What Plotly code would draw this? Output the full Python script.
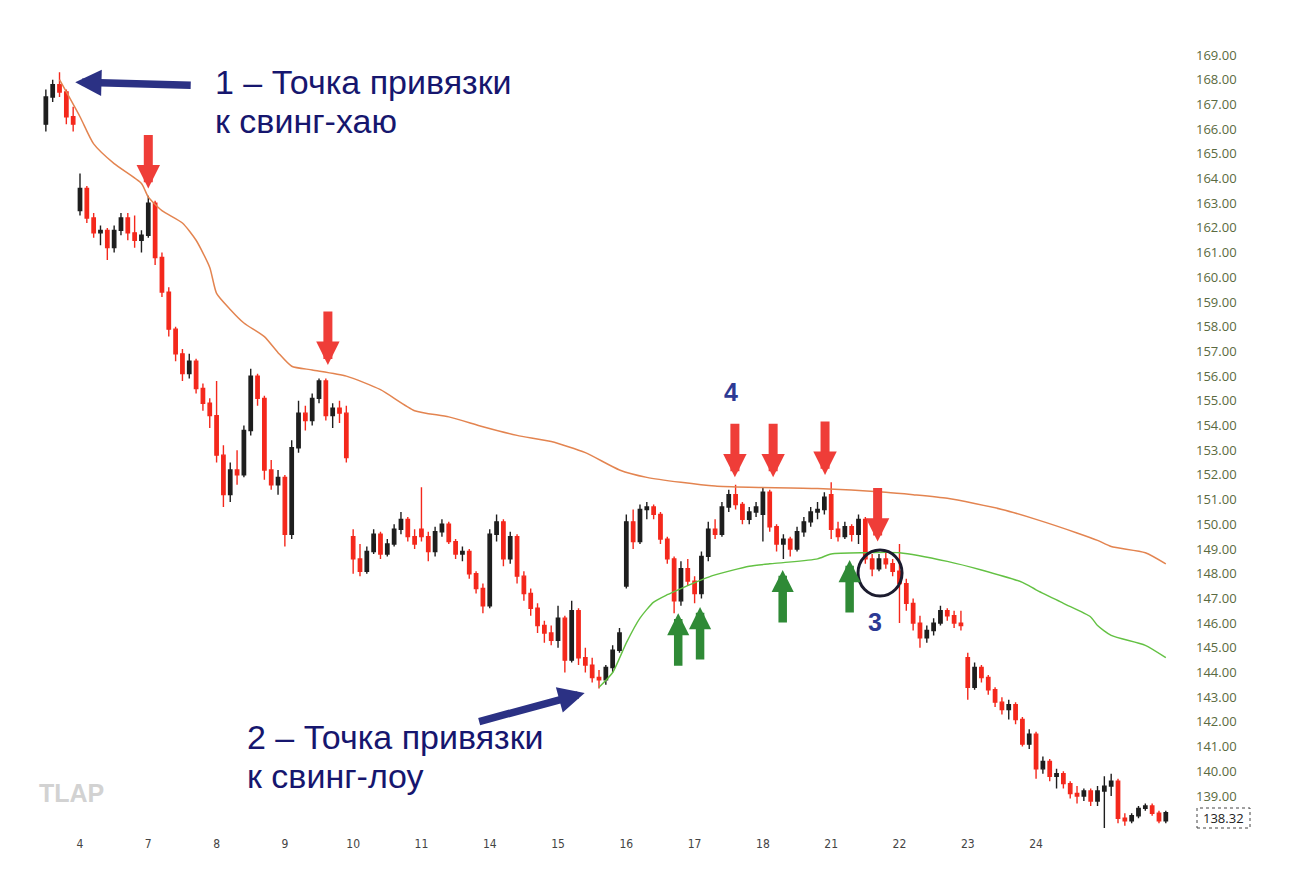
import plotly.graph_objects as go

# ---------------- data ----------------
bars = list(range(5, 170))

opens = [
    166.2, 167.3, 167.8, 167.5, 166.5,
    162.7, 163.6, 162.4, 161.8, 161.9, 161.2, 161.9, 162.4, 161.8, 161.5,
    161.7, 163.0, 160.8, 159.4, 157.9, 156.9, 156.1, 156.6, 155.5, 154.9,
    154.4, 152.8, 151.2, 152.2, 152.0, 153.8, 156.0, 155.1, 152.2, 151.6,
    151.9, 149.6, 153.1, 154.5, 154.2, 155.1, 155.8, 154.4, 154.7, 154.5,
    149.5, 148.6, 148.1, 148.9, 149.6, 148.8, 149.2, 149.8, 150.2, 149.5,
    149.8, 149.5, 148.9, 149.7, 150.0, 149.3, 148.8, 148.9, 148.0, 147.4,
    146.7, 149.6, 150.1, 148.6, 149.5, 147.9, 147.2, 146.6, 145.9, 145.6,
    145.3, 146.2, 144.5, 146.5, 144.6, 144.3, 143.8, 143.7, 144.2, 144.9,
    147.5, 150.1, 149.3, 150.6, 150.7, 150.4, 149.4, 148.6, 146.9, 148.2,
    147.7, 147.2, 148.7, 149.8, 149.6, 150.7, 151.2, 150.8, 150.2, 150.5,
    150.4, 151.3, 149.9, 149.2, 149.4, 149.0, 149.7, 150.1, 150.5, 150.6,
    151.2, 149.8, 149.5, 149.9, 149.6, 150.2, 148.6, 148.2, 148.6, 148.4,
    148.1, 147.6, 146.8, 146.0, 145.4, 145.7, 146.0, 146.5, 146.3, 146.0,
    144.6, 143.4, 144.2, 143.8, 143.3, 142.8, 142.5, 142.7, 142.1, 141.1,
    141.5, 140.1, 140.4, 139.8, 139.9, 139.5, 139.1, 139.0, 139.2, 138.8,
    139.2, 139.4, 139.6, 138.1, 138.0, 138.2, 138.5, 138.6, 138.3, 138.0,
]
highs = [
    167.6, 168.0, 168.3, 167.6, 166.9,
    164.2, 163.7, 162.6, 162.1, 162.0, 162.1, 162.6, 162.6, 162.5, 161.9,
    163.3, 163.1, 161.0, 159.6, 158.0, 157.1, 156.9, 156.7, 155.7, 155.1,
    155.8, 153.2, 152.5, 153.0, 154.0, 156.3, 156.1, 155.2, 152.6, 152.2,
    152.0, 153.4, 155.0, 154.8, 155.3, 155.9, 155.9, 154.9, 155.0, 154.8,
    149.8, 149.2, 149.1, 149.8, 149.7, 149.4, 150.0, 150.5, 150.3, 149.8,
    151.5, 149.7, 149.9, 150.2, 150.1, 149.4, 149.1, 149.0, 148.1, 147.6,
    149.8, 150.4, 150.2, 149.7, 149.6, 148.1, 147.4, 146.8, 146.1, 145.9,
    146.7, 146.3, 146.9, 146.6, 145.0, 144.6, 144.1, 144.3, 145.1, 145.8,
    150.4, 150.6, 150.8, 150.9, 150.8, 150.5, 149.5, 148.7, 148.5, 148.6,
    147.9, 148.9, 150.1, 150.2, 150.9, 151.4, 151.6, 150.9, 150.7, 150.9,
    151.5, 151.4, 150.0, 149.6, 149.5, 149.9, 150.3, 150.7, 150.9, 151.3,
    151.7, 150.1, 150.1, 150.0, 150.4, 150.3, 148.8, 148.8, 148.9, 148.6,
    149.2, 147.8, 147.0, 146.3, 145.9, 146.2, 146.7, 146.6, 146.5, 146.5,
    144.8, 144.4, 144.3, 143.9, 143.4, 143.0, 142.9, 142.8, 142.2, 141.7,
    141.6, 140.6, 140.5, 140.1, 140.0, 139.6, 139.4, 139.3, 139.3, 139.4,
    139.8, 139.9, 139.7, 138.3, 138.3, 138.6, 138.7, 138.7, 138.4, 138.4,
]
lows = [
    165.9, 167.1, 167.3, 166.2, 165.9,
    162.5, 162.2, 161.6, 161.3, 160.7, 161.0, 161.7, 161.5, 161.2, 161.0,
    161.6, 160.5, 159.2, 157.6, 156.6, 155.8, 155.9, 155.3, 154.6, 153.9,
    152.5, 150.7, 150.9, 151.6, 151.9, 153.6, 154.8, 151.8, 151.4, 151.2,
    149.1, 149.4, 152.9, 153.8, 154.0, 154.9, 154.2, 153.9, 154.1, 152.5,
    148.0, 147.9, 148.0, 148.8, 148.6, 148.7, 149.1, 149.6, 149.3, 149.0,
    149.3, 148.5, 148.7, 149.5, 149.2, 148.6, 148.5, 147.8, 147.2, 146.4,
    146.6, 149.3, 148.3, 148.4, 147.6, 146.9, 146.3, 145.6, 145.2, 145.1,
    145.0, 144.0, 144.4, 144.3, 144.0, 143.6, 143.35, 143.5, 144.0, 144.8,
    147.4, 149.0, 149.2, 150.2, 150.2, 149.2, 148.4, 146.4, 146.7, 147.5,
    146.8, 147.0, 148.5, 149.4, 149.5, 150.5, 150.6, 150.0, 150.0, 150.3,
    149.3, 149.7, 148.9, 148.6, 148.7, 148.9, 149.5, 149.9, 150.2, 150.4,
    149.4, 149.3, 149.4, 149.3, 149.2, 148.4, 147.9, 148.1, 148.2, 147.9,
    146.0, 146.5, 145.7, 145.0, 145.2, 145.5, 145.9, 146.1, 145.8, 145.7,
    142.9, 143.3, 143.6, 143.1, 142.6, 142.3, 142.1, 141.9, 141.0, 140.9,
    139.7, 139.9, 139.6, 139.3, 139.3, 138.9, 138.7, 138.8, 138.6, 138.6,
    137.7, 139.0, 137.9, 137.8, 137.9, 138.1, 138.4, 138.2, 137.9, 137.9,
]
closes = [
    167.3, 167.8, 167.5, 166.5, 166.2,
    163.6, 162.4, 161.8, 161.9, 161.2, 161.9, 162.4, 161.8, 161.5, 161.7,
    163.0, 160.8, 159.4, 157.9, 156.9, 156.1, 156.6, 155.5, 154.9, 154.4,
    152.8, 151.2, 152.2, 152.0, 153.8, 156.0, 155.1, 152.2, 151.6, 151.9,
    149.6, 153.1, 154.5, 154.2, 155.1, 155.8, 154.4, 154.7, 154.5, 152.7,
    148.6, 148.1, 148.9, 149.6, 148.8, 149.2, 149.8, 150.2, 149.5, 149.2,
    149.5, 148.9, 149.7, 150.0, 149.3, 148.8, 148.9, 148.0, 147.4, 146.7,
    149.6, 150.1, 148.6, 149.5, 147.9, 147.2, 146.6, 145.9, 145.6, 145.3,
    146.2, 144.5, 146.5, 144.6, 144.3, 143.8, 143.7, 144.2, 144.9, 145.6,
    150.1, 149.3, 150.6, 150.7, 150.4, 149.4, 148.6, 146.9, 148.2, 147.7,
    147.2, 148.7, 149.8, 149.6, 150.7, 151.2, 150.8, 150.2, 150.5, 150.7,
    151.3, 149.9, 149.2, 149.4, 149.0, 149.7, 150.1, 150.5, 150.6, 151.1,
    149.8, 149.5, 149.9, 149.6, 150.2, 148.6, 148.2, 148.6, 148.4, 148.1,
    147.6, 146.8, 146.0, 145.4, 145.7, 146.0, 146.5, 146.3, 146.0, 145.9,
    143.4, 144.2, 143.8, 143.3, 142.8, 142.5, 142.7, 142.1, 141.1, 141.5,
    140.1, 140.4, 139.8, 139.9, 139.5, 139.1, 139.0, 139.2, 138.8, 139.2,
    139.4, 139.6, 138.1, 138.0, 138.2, 138.5, 138.6, 138.3, 138.0, 138.32,
]

# anchored VWAP from swing high (orange) and from swing low (green)
vwap_high_x = [7, 10, 12, 15, 19, 20, 22, 25, 27, 29, 30, 32, 34, 37, 39, 41, 44, 49, 54, 59,
               64, 69, 74, 79, 84, 89, 93, 98, 103, 108, 118, 128, 132, 137, 145, 150, 156,
               159, 161, 166, 169]
vwap_high_y = [168.0, 166.5, 165.4, 164.6, 163.8, 163.25, 162.7, 162.2, 161.5, 160.4, 159.35,
               158.7, 158.15, 157.6, 156.95, 156.4, 156.25, 156.0, 155.45, 154.6, 154.35,
               153.95, 153.6, 153.35, 152.9, 152.2, 151.9, 151.7, 151.55, 151.5, 151.45,
               151.3, 151.2, 151.05, 150.6, 150.2, 149.65, 149.35, 149.1, 148.85, 148.4]
vwap_low_x = [86, 88, 90, 92, 94, 96, 98, 101, 103, 108, 111, 113, 118, 120, 125, 130, 137,
              142, 148, 150, 154, 158, 159, 161, 166, 169]
vwap_low_y = [143.4, 144.0, 145.2, 146.2, 146.85, 147.15, 147.4, 147.75, 147.95, 148.3, 148.4,
              148.45, 148.6, 148.8, 148.85, 148.85, 148.5, 148.15, 147.65, 147.35, 146.8,
              146.25, 145.9, 145.5, 145.1, 144.6]

day_tick_bars = [10, 20, 30, 40, 50, 60, 70, 80, 90, 100, 110, 120, 130, 140, 150]
day_tick_labels = ["4", "7", "8", "9", "10", "11", "14", "15", "16", "17", "18", "21", "22", "23", "24"]
price_ticks = list(range(139, 170))

last_price = 138.32

# annotation anchor points (bar, price)
red_arrows = [(20, 163.6), (46.3, 156.45), (105.9, 151.9), (111.5, 151.9), (119.1, 152.0), (126.8, 149.3)]
green_arrows = [(97.6, 146.4), (100.8, 146.65), (112.9, 148.15), (122.7, 148.55)]

# ---------------- figure ----------------
W, H = 1290, 886
ML, MR, MT, MB = 0, 95, 30, 51
PW, PH = W - ML - MR, H - MT - MB

def px(xp):
    return (xp - ML) / PW

def py(yp):
    return (H - MB - yp) / PH

fig = go.Figure()

fig.add_trace(go.Candlestick(
    x=bars, open=opens, high=highs, low=lows, close=closes,
    increasing=dict(line=dict(color="#1e1e1e", width=1.4), fillcolor="#1e1e1e"),
    decreasing=dict(line=dict(color="#f4281c", width=1.4), fillcolor="#f4281c"),
    whiskerwidth=0, hoverinfo="skip", showlegend=False,
))

fig.add_trace(go.Scatter(
    x=vwap_high_x, y=vwap_high_y, mode="lines",
    line=dict(color="#e38450", width=1.5, shape="spline", smoothing=0.6),
    hoverinfo="skip", showlegend=False,
))
fig.add_trace(go.Scatter(
    x=vwap_low_x, y=vwap_low_y, mode="lines",
    line=dict(color="#63c143", width=1.4, shape="spline", smoothing=0.6),
    hoverinfo="skip", showlegend=False,
))

annotations = []
TXT = dict(family="Liberation Sans, Arial, sans-serif", size=34, color="#16166e")

def label(text, xp, yp, font, xanchor="left"):
    annotations.append(dict(
        text=text, xref="paper", yref="paper", x=px(xp), y=py(yp),
        xanchor=xanchor, yanchor="middle", showarrow=False, font=font,
    ))

label("1 – Точка привязки", 213, 82, TXT)
label("к свинг-хаю", 213, 121, TXT)
label("2 – Точка привязки", 245, 737, TXT)
label("к свинг-лоу", 245, 776, TXT)
NUM = dict(family="Liberation Sans, Arial, sans-serif", size=25, color="#2d3a94")
label("<b>4</b>", 731, 392, NUM, "center")
label("<b>3</b>", 875, 622, NUM, "center")
label("<b>TLAP</b>", 71, 793, dict(family="Liberation Sans, Arial, sans-serif", size=25, color="#d2d2d2"), "center")

for bx, by in red_arrows:
    annotations.append(dict(
        x=bx, y=by, xref="x", yref="y", ax=0, ay=-55, text="", showarrow=True,
        arrowhead=2, arrowsize=0.52, arrowwidth=9, arrowcolor="#ef3d38", standoff=0,
    ))
for bx, by in green_arrows:
    annotations.append(dict(
        x=bx, y=by, xref="x", yref="y", ax=0, ay=54, text="", showarrow=True,
        arrowhead=2, arrowsize=0.52, arrowwidth=8.5, arrowcolor="#2f8a36", standoff=0,
    ))
# blue arrows toward the anchor points
annotations.append(dict(
    x=9.3, y=167.9, xref="x", yref="y", ax=117, ay=3, text="", showarrow=True,
    arrowhead=2, arrowsize=0.7, arrowwidth=7.5, arrowcolor="#2b3184", standoff=0,
))
annotations.append(dict(
    x=83.9, y=143.17, xref="x", yref="y", ax=-107, ay=29, text="", showarrow=True,
    arrowhead=2, arrowsize=0.7, arrowwidth=7.5, arrowcolor="#2b3184", standoff=0,
))
# last price label
annotations.append(dict(
    text=f"{last_price:.2f}", xref="paper", yref="paper", x=px(1223), y=py(818),
    xanchor="center", yanchor="middle", showarrow=False,
    font=dict(family="Open Sans, sans-serif", size=13, color="#222222"),
))

shapes = [
    dict(type="circle", xref="x", yref="y", xsizemode="pixel", ysizemode="pixel",
         xanchor=127.15, yanchor=148.03, x0=-22, x1=22, y0=-23, y1=23,
         line=dict(color="#1b1b2e", width=3)),
    dict(type="rect", xref="paper", yref="paper", x0=px(1197), x1=px(1250),
         y0=py(828), y1=py(808), fillcolor="white",
         line=dict(color="#444444", width=1, dash="dot"), layer="above"),
]

bpp = 6.829  # pixels per bar
xmin = 10 - (80 - ML) / bpp
xmax = xmin + PW / bpp
ymax = 169 + (55 - MT) / 24.7
ymin = 169 - (H - MB - 55) / 24.7

fig.update_layout(
    width=W, height=H,
    margin=dict(l=ML, r=MR, t=MT, b=MB),
    paper_bgcolor="white", plot_bgcolor="white",
    showlegend=False,
    annotations=annotations,
    shapes=shapes,
    xaxis=dict(
        range=[xmin, xmax], tickvals=day_tick_bars, ticktext=day_tick_labels,
        showgrid=False, zeroline=False, showline=False, ticks="",
        rangeslider=dict(visible=False),
        tickfont=dict(family="Liberation Sans Narrow, DejaVu Sans Condensed, Arial", size=12, color="#444444"),
    ),
    yaxis=dict(
        range=[ymin, ymax], side="right", tickvals=price_ticks,
        ticktext=[f"{v:.2f}" for v in price_ticks],
        showgrid=False, zeroline=False, showline=False, ticks="",
        tickfont=dict(family="Open Sans, sans-serif", size=13, color="#5a6a40"),
    ),
)

fig.write_html("out.html")
